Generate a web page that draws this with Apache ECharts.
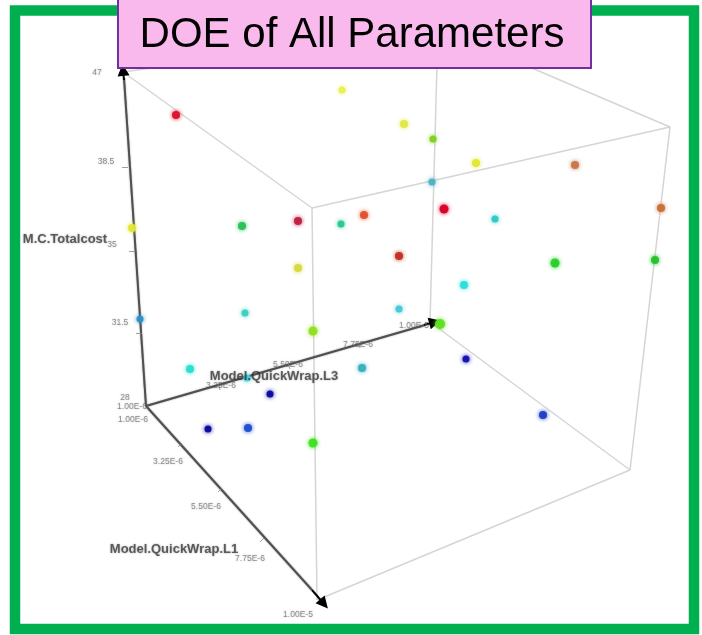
<!DOCTYPE html>
<html>
<head>
<meta charset="utf-8">
<title>DOE of All Parameters</title>
<style>
  html, body { margin: 0; padding: 0; background: #fff; }
  #chart { width: 702px; height: 635px; }
</style>
<script src="https://cdn.jsdelivr.net/npm/echarts@6/dist/echarts.min.js"></script>
</head>
<body>
<div id="chart"></div>
<script>
const titleText = 'DOE of All Parameters';

// design points
const pointX = [176, 342, 404, 433, 476, 575, 432, 661, 444, 364, 495, 298, 341, 242, 132, 399, 555, 655, 298, 464, 399, 245, 140, 313, 440, 466, 190, 362, 247, 270, 208, 248, 313, 543];
const pointY = [115, 90, 124, 139, 163, 165, 182, 208, 209, 215, 219, 221, 224, 226, 228, 256, 263, 260, 268, 285, 309, 313, 319, 331, 324, 359, 369, 368, 378, 394, 429, 428, 443, 415];
const pointColor = ['#e0102a', '#e8f050', '#e0e840', '#80d020', '#e0e830', '#c8784a', '#50b0c8', '#c8703a', '#d80028', '#e05030', '#30c8c8', '#c02040', '#28c890', '#28c058', '#e0e830', '#c03020', '#28d028', '#28c030', '#d8d840', '#28e0d8', '#48c8d8', '#38d0c0', '#3090c8', '#90e020', '#60e020', '#1010b0', '#28e0d0', '#38b0c0', '#40d8e8', '#0808a0', '#0808a0', '#2050d0', '#40e020', '#2040c0'];
const pointSize = [8, 7, 8, 7, 8, 8, 7, 8, 9, 8, 7, 8, 7, 8, 8, 8, 9, 8, 8, 8, 7, 7, 7, 9, 10, 7, 8, 8, 7, 7, 7, 8, 9, 8];

// grey box edges
const boxEdges = [
  [[123, 72], [312, 208]],
  [[123, 72], [438, 28]],
  [[438, 28], [670, 127]],
  [[312, 208], [670, 127]],
  [[312, 208], [317, 600]],
  [[670, 127], [630, 470]],
  [[630, 470], [317, 600]],
  [[430, 322], [630, 470]],
  [[430, 322], [438, 28]]
];

// dark axes, from the origin corner
const axisEdges = [
  [[146, 406], [124, 78]],
  [[146, 406], [425, 325]],
  [[146, 406], [312, 590]]
];

// the arrow heads are black, the shafts a bit lighter
const arrowEdges = [
  [[124, 80], [123, 70]],
  [[424, 325], [435, 322]],
  [[312, 590], [324, 604]]
];

const tickEdges = [
  [[122, 167], [128, 167]],
  [[129, 251], [135, 251]],
  [[136, 333], [142, 333]],
  [[178, 447], [182, 443]],
  [[218, 492], [222, 488]],
  [[260, 542], [264, 538]],
  [[218, 384], [220, 390]],
  [[288, 363], [290, 369]],
  [[358, 342], [360, 348]]
];

const tickLabels = ['47', '38.5', '35', '31.5', '28', '1.00E-6', '1.00E-6', '3.25E-6', '5.50E-6', '7.75E-6', '1.00E-5', '3.25E-6', '5.50E-6', '7.75E-6', '1.00E-5'];
const tickLabelX = [97, 106, 112, 120, 125, 133, 132, 168, 206, 250, 298, 221, 288, 358, 414];
const tickLabelY = [73, 162, 245, 323, 398, 420, 407, 462, 507, 559, 615, 386, 365, 345, 326];

const axisTitles = ['M.C.Totalcost', 'Model.QuickWrap.L3', 'Model.QuickWrap.L1'];
const axisTitleX = [65, 274, 174];
const axisTitleY = [239, 376, 549];

const chart = echarts.init(document.getElementById('chart'));

chart.setOption({
  animation: false,
  grid: { left: 0, right: 0, top: 0, bottom: 0 },
  xAxis: { type: 'value', min: 0, max: 702, show: false },
  yAxis: { type: 'value', min: 0, max: 635, inverse: true, show: false },
  series: [
    {
      type: 'lines',
      coordinateSystem: 'cartesian2d',
      z: 1,
      silent: true,
      data: boxEdges.map((e) => ({ coords: e })),
      lineStyle: { color: '#d0d0d0', width: 1.5, opacity: 0.9, curveness: 0 },
    },
    {
      type: 'lines',
      coordinateSystem: 'cartesian2d',
      z: 2,
      silent: true,
      data: axisEdges.map((e) => ({ coords: e })),
      lineStyle: { color: '#484848', width: 2, opacity: 0.9, curveness: 0, shadowBlur: 1.5, shadowColor: '#777' },
    },
    {
      type: 'lines',
      coordinateSystem: 'cartesian2d',
      z: 2,
      silent: true,
      symbol: ['none', 'triangle'],
      symbolSize: 12,
      data: arrowEdges.map((e) => ({ coords: e })),
      lineStyle: { color: '#000', width: 2, opacity: 1, curveness: 0 },
    },
    {
      type: 'lines',
      coordinateSystem: 'cartesian2d',
      z: 2,
      silent: true,
      data: tickEdges.map((e) => ({ coords: e })),
      lineStyle: { color: '#888', width: 1, opacity: 0.8, curveness: 0 },
    },
    {
      type: 'scatter',
      z: 3,
      symbol: 'circle',
      data: pointX.map((x, i) => ({
        value: [x, pointY[i]],
        symbolSize: pointSize[i],
        itemStyle: { color: pointColor[i], shadowBlur: 4, shadowColor: pointColor[i], opacity: 0.95 },
      })),
    },
    {
      type: 'scatter',
      z: 4,
      symbolSize: 1,
      itemStyle: { color: 'transparent' },
      data: tickLabels.map((t, i) => ({ value: [tickLabelX[i], tickLabelY[i]], name: t })),
      label: {
        show: true,
        position: 'inside',
        formatter: '{b}',
        fontFamily: 'Liberation Sans',
        fontSize: 8.5,
        color: 'rgba(80,80,80,0.75)',
        textShadowColor: 'rgba(110,110,110,0.7)',
        textShadowBlur: 2,
      },
    },
    {
      type: 'scatter',
      z: 5,
      symbolSize: 1,
      itemStyle: { color: 'transparent' },
      data: axisTitles.map((t, i) => ({ value: [axisTitleX[i], axisTitleY[i]], name: t })),
      label: {
        show: true,
        position: 'inside',
        formatter: '{b}',
        fontFamily: 'Liberation Sans',
        fontWeight: 'bold',
        fontSize: 13,
        color: 'rgba(40,40,40,0.85)',
        textShadowColor: 'rgba(70,70,70,0.7)',
        textShadowBlur: 2,
      },
    },
  ],
  graphic: [
    // green frame around the slide picture
    { type: 'rect', z: 90, silent: true, shape: { x: 15, y: 10.5, width: 679, height: 618.5 }, style: { fill: 'none', stroke: '#00b050', lineWidth: 10.5 } },
    { type: 'rect', z: 100, silent: true, shape: { x: 118, y: -2, width: 473, height: 70 }, style: { fill: '#f9b9ec', stroke: '#7030a0', lineWidth: 2 } },
    { type: 'text', z: 101, silent: true, style: { x: 352, y: 35, text: titleText, align: 'center', verticalAlign: 'middle', font: '42px "Liberation Sans"', fill: '#000' } },
  ],
});
</script>
</body>
</html>
